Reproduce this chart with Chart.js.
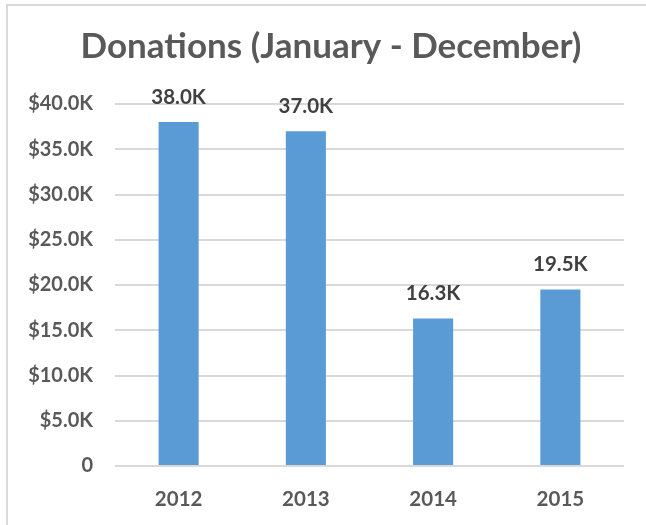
<!DOCTYPE html>
<html>
<head>
<meta charset="utf-8">
<script src="https://cdn.jsdelivr.net/npm/chart.js@4"></script>
<style>
  html, body { margin: 0; padding: 0; background: #fff; }
  #wrap { position: relative; width: 646px; height: 525px; overflow: hidden; }
  #frame { position: absolute; left: 6px; top: 4px; width: 700px; height: 600px;
           border-top: 2px solid #D9D9D9; border-left: 2px solid #D9D9D9; pointer-events: none; }
  canvas { position: absolute; left: 0; top: 0; }
</style>
</head>
<body>
<div id="wrap">
  <canvas id="c" width="646" height="525"></canvas>
  <div id="frame"></div>
</div>
<script>
const titleText = "Donations (January - December)";
const categories = ["2012", "2013", "2014", "2015"];
const donations = [38000, 37000, 16300, 19500];
const dataLabels = ["38.0K", "37.0K", "16.3K", "19.5K"];
const yMax = 40000;
const yStep = 5000;

const FONT = "Lato, 'Open Sans', sans-serif";

const labelPlugin = {
  id: 'barLabels',
  afterDatasetsDraw(chart) {
    const ctx = chart.ctx;
    const meta = chart.getDatasetMeta(0);
    ctx.save();
    ctx.font = "bold 20.5px " + FONT;
    ctx.fillStyle = "#404040";
    ctx.textAlign = "center";
    ctx.textBaseline = "middle";
    meta.data.forEach((bar, i) => {
      ctx.fillText(dataLabels[i], bar.x, bar.y - 25);
    });
    ctx.restore();
  }
};

const titlePlugin = {
  id: 'offsetTitle',
  afterDraw(chart) {
    const ctx = chart.ctx;
    ctx.save();
    ctx.font = "bold 35px " + FONT;
    ctx.fillStyle = "#595959";
    ctx.textAlign = "center";
    ctx.textBaseline = "middle";
    ctx.fillText(titleText, 331, 47);
    ctx.restore();
  }
};

new Chart(document.getElementById('c'), {
  type: 'bar',
  data: {
    labels: categories,
    datasets: [{
      data: donations,
      backgroundColor: '#5B9BD5',
      borderWidth: 0,
      categoryPercentage: 1,
      barPercentage: 0.315
    }]
  },
  options: {
    responsive: false,
    animation: false,
    layout: { padding: { left: 0, right: 22, top: 104, bottom: 0 } },
    plugins: {
      legend: { display: false },
      tooltip: { enabled: false },
      title: { display: false }
    },
    scales: {
      x: {
        grid: { display: false, drawTicks: false },
        border: { display: false },
        ticks: { color: '#595959', font: { family: FONT, size: 20.5, weight: 'bold' }, padding: 21 },
        afterFit(scale) { scale.height = 59; }
      },
      y: {
        min: 0, max: yMax,
        grid: { color: '#D9D9D9', lineWidth: 2, drawTicks: false },
        border: { display: false },
        ticks: {
          stepSize: yStep,
          color: '#595959',
          font: { family: FONT, size: 20, weight: 'bold' },
          padding: 22,
          callback: v => v === 0 ? '0' : '$' + (v / 1000).toFixed(1) + 'K'
        },
        afterFit(scale) { scale.width = 115; }
      }
    }
  },
  plugins: [labelPlugin, titlePlugin]
});
</script>
</body>
</html>
